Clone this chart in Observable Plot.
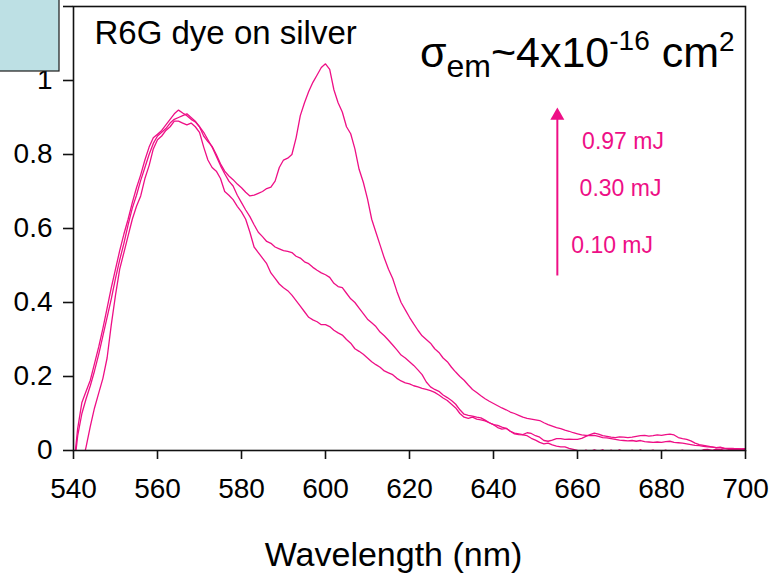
<!DOCTYPE html>
<html><head><meta charset="utf-8">
<script src="https://cdn.jsdelivr.net/npm/d3@7"></script>
<script src="https://cdn.jsdelivr.net/npm/@observablehq/plot@0.6"></script>
<style>body{margin:0;background:#fff;} svg{display:block;}</style>
</head><body><div id="chart"></div>
<script>
// Wavelength grid (nm)
const wavelengths = d3.range(540, 701);
const seriesNames = ["0.97 mJ", "0.30 mJ", "0.10 mJ"];

// Normalised emission, one value per nm (540..700)
const v097 = [
 -0.05,0.06,0.13,0.16,0.19,0.235,0.28,0.33,0.385,0.44,
 0.49,0.54,0.585,0.625,0.67,0.71,0.745,0.785,0.82,0.845,
 0.855,0.865,0.88,0.895,0.91,0.92,0.912,0.905,0.895,0.888,
 0.875,0.85,0.835,0.822,0.80,0.775,0.755,0.742,0.732,0.72,
 0.71,0.698,0.688,0.69,0.695,0.70,0.708,0.712,0.728,0.765,
 0.785,0.79,0.80,0.845,0.905,0.94,0.97,0.995,1.015,1.035,
 1.045,1.03,0.975,0.94,0.915,0.875,0.856,0.815,0.76,0.725,
 0.68,0.625,0.59,0.555,0.52,0.49,0.465,0.43,0.40,0.38,
 0.36,0.342,0.325,0.31,0.30,0.29,0.275,0.265,0.25,0.24,
 0.225,0.212,0.20,0.19,0.177,0.165,0.157,0.148,0.14,0.133,
 0.127,0.121,0.115,0.11,0.104,0.1,0.095,0.09,0.087,0.085,
 0.083,0.081,0.075,0.07,0.066,0.062,0.059,0.055,0.052,0.048,
 0.045,0.042,0.041,0.04,0.041,0.038,0.035,0.034,0.032,0.03,
 0.028,0.027,0.026,0.027,0.025,0.027,0.024,0.023,0.022,0.023,
 0.022,0.024,0.025,0.022,0.021,0.02,0.018,0.016,0.014,0.013,
 0.011,0.01,0.009,0.008,0.007,0.006,0.006,0.005,0.005,0.004,
 0.005];
const v030 = [
 -0.06,0.04,0.10,0.14,0.175,0.215,0.26,0.31,0.36,0.41,
 0.465,0.515,0.56,0.61,0.655,0.69,0.73,0.765,0.80,0.83,
 0.85,0.86,0.87,0.885,0.895,0.90,0.905,0.91,0.90,0.89,
 0.875,0.86,0.84,0.82,0.795,0.77,0.748,0.728,0.715,0.69,
 0.67,0.65,0.632,0.61,0.59,0.578,0.565,0.56,0.55,0.545,
 0.54,0.538,0.535,0.525,0.52,0.51,0.505,0.495,0.487,0.48,
 0.475,0.468,0.452,0.443,0.44,0.425,0.41,0.40,0.385,0.37,
 0.355,0.345,0.335,0.32,0.31,0.298,0.285,0.272,0.258,0.25,
 0.24,0.23,0.218,0.205,0.185,0.172,0.165,0.16,0.15,0.143,
 0.135,0.125,0.11,0.098,0.095,0.093,0.09,0.088,0.082,0.075,
 0.07,0.068,0.063,0.06,0.052,0.047,0.045,0.043,0.048,0.046,
 0.04,0.036,0.027,0.025,0.028,0.032,0.032,0.03,0.031,0.03,
 0.03,0.033,0.038,0.043,0.047,0.044,0.04,0.038,0.036,0.035,
 0.037,0.036,0.035,0.036,0.038,0.04,0.041,0.039,0.04,0.042,
 0.041,0.043,0.044,0.042,0.035,0.032,0.03,0.026,0.02,0.016,
 0.014,0.012,0.01,0.008,0.009,0.006,0.005,0.006,0.004,0.004,
 0.005];
const v010 = [
 -0.15,-0.1,-0.04,0.01,0.065,0.115,0.155,0.195,0.25,0.34,
 0.42,0.49,0.535,0.58,0.625,0.66,0.688,0.735,0.77,0.815,
 0.84,0.85,0.865,0.875,0.89,0.89,0.885,0.88,0.885,0.875,
 0.86,0.82,0.785,0.765,0.755,0.735,0.70,0.69,0.678,0.66,
 0.645,0.625,0.59,0.55,0.535,0.52,0.505,0.48,0.465,0.45,
 0.44,0.432,0.42,0.405,0.39,0.375,0.36,0.353,0.348,0.34,
 0.34,0.335,0.325,0.318,0.312,0.30,0.29,0.275,0.268,0.26,
 0.25,0.24,0.232,0.225,0.215,0.21,0.205,0.195,0.188,0.183,
 0.18,0.175,0.172,0.168,0.165,0.162,0.157,0.15,0.142,0.135,
 0.125,0.115,0.1,0.09,0.087,0.09,0.085,0.083,0.08,0.075,
 0.07,0.062,0.058,0.06,0.052,0.045,0.043,0.042,0.04,0.033,
 0.028,0.022,0.018,0.02,0.015,0.012,0.01,0.01,0.006,0.003,
 0.0,-0.004,0.001,-0.003,0.002,-0.002,0.002,-0.005,0.001,-0.004,
 0.002,-0.003,-0.006,0.001,-0.004,0.002,-0.005,-0.002,0.001,-0.005,
 -0.003,0.001,-0.004,-0.006,-0.002,0.001,-0.004,-0.002,0.0,-0.003,
 0.002,0.003,0.0,0.004,0.002,0.005,0.003,0.002,0.004,0.002,
 0.003];

const xTicks = [540, 560, 580, 600, 620, 640, 660, 680, 700];
const yTicks = [0, 0.2, 0.4, 0.6, 0.8, 1, 1.2];
const yTickLabels = ["0", "0.2", "0.4", "0.6", "0.8", "1", ""];
const energyLabels = ["0.97 mJ", "0.30 mJ", "0.10 mJ"];
const titleText = "R6G dye on silver";
const xTitle = "Wavelength (nm)";

const rows = [];
[v097, v030, v010].forEach((vals, i) =>
  vals.forEach((v, j) => rows.push({wl: wavelengths[j], v, s: seriesNames[i]})));

const pink = "#ee0f86";
const font = "'Liberation Sans', Arial, Helvetica, sans-serif";

const labelRows = [
  {t: energyLabels[0], x: 661.1, y: 0.8335},
  {t: energyLabels[1], x: 660.5, y: 0.707},
  {t: energyLabels[2], x: 658.5, y: 0.554}
];

const plot = Plot.plot({
  width: 771, height: 576,
  marginTop: 6, marginRight: 26, marginBottom: 126, marginLeft: 73,
  style: {fontFamily: font, fontSize: "28px", color: "#000", background: "#fff", overflow: "visible"},
  x: {domain: [540, 700]},
  y: {domain: [0, 1.2]},
  marks: [
    Plot.line(rows, {x: "wl", y: "v", z: "s", stroke: pink, strokeWidth: 1.3, clip: true}),
    Plot.frame({stroke: "#111", strokeWidth: 1.6}),
    Plot.axisY({ticks: yTicks, tickFormat: d => yTickLabels[yTicks.indexOf(d)], tickSize: 10, tickPadding: 11, label: null, stroke: "#111", strokeWidth: 1.6, fontSize: 28}),
    Plot.axisX({ticks: xTicks, tickFormat: d => String(d), tickSize: 9, tickPadding: 19, label: null, stroke: "#111", strokeWidth: 1.6, fontSize: 28}),
    Plot.text([titleText], {x: 545, y: 1.1276, text: d => d, textAnchor: "start", fontSize: 33, fill: "#000"}),
    Plot.text([xTitle], {x: 616.2, y: -0.284, text: d => d, fontSize: 34, fill: "#000"}),
    Plot.text(labelRows, {x: "x", y: "y", text: "t", textAnchor: "start", fontSize: 23, fill: pink}),
    Plot.link([0], {x1: 655.2, x2: 655.2, y1: 0.473, y2: 0.905, stroke: pink, strokeWidth: 2}),
    Plot.dot([0], {x: 655.2, y: 0.905, symbol: "triangle", r: 5.2, fill: pink, stroke: null})
  ]
});

document.getElementById("chart").appendChild(plot);

const svg = d3.select(plot);
const xs = plot.scale("x"), ys = plot.scale("y");
// sigma annotation with sub/superscripts
const t = svg.append("text")
  .attr("x", xs.apply(622.6)).attr("y", ys.apply(1.035))
  .attr("text-anchor", "start")
  .attr("font-family", font).attr("font-size", 43).attr("fill", "#000");
t.append("tspan").text("σ");
t.append("tspan").attr("font-size", 32).attr("dy", 10).text("em");
t.append("tspan").attr("dy", -10).text("~4x10");
t.append("tspan").attr("font-size", 28).attr("dy", -17).text("-16");
t.append("tspan").attr("dy", 17).text(" cm");
t.append("tspan").attr("font-size", 28).attr("dy", -16).text("2");

// light blue box in the top-left corner
svg.append("rect").attr("x", -1).attr("y", -1).attr("width", 60).attr("height", 72)
  .attr("fill", "#bde0e4").attr("stroke", "#1a1a1a").attr("stroke-width", 1.2);
</script>
</body></html>
